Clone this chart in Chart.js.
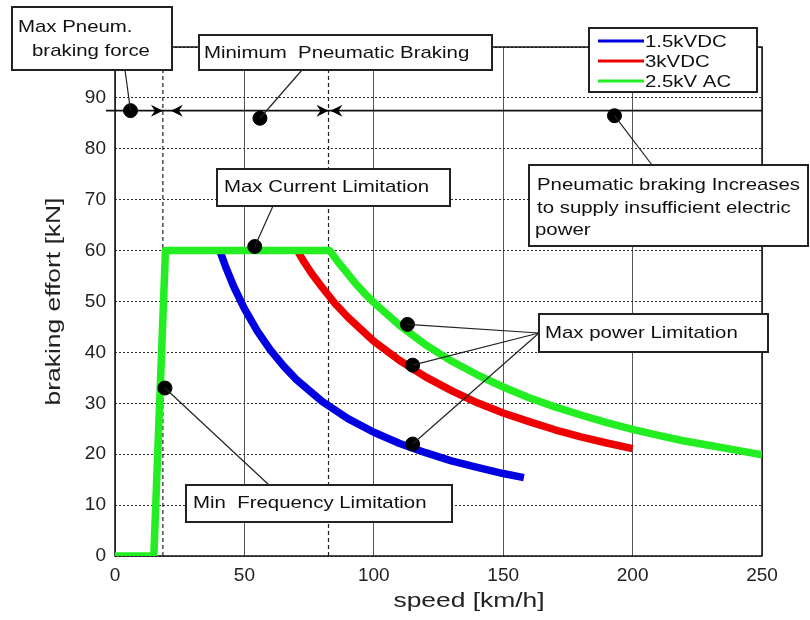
<!DOCTYPE html>
<html>
<head>
<meta charset="utf-8">
<script src="https://cdn.jsdelivr.net/npm/chart.js@4/dist/chart.umd.min.js"></script>
<style>
  html, body { margin: 0; padding: 0; background: #fff; }
  #wrap { width: 810px; height: 620px; }
</style>
</head>
<body>
<div id="wrap"><canvas id="brake-chart" width="810" height="620"></canvas></div>
<script>
// values (speed in km/h, effort in kN)
const blueSpeed = [40.5, 43, 46, 50, 55, 60, 65, 70, 80, 90, 100, 110, 120, 130, 140, 150, 158];
const blueForce = [60, 56.5, 52.8, 48.6, 44.2, 40.5, 37.4, 34.7, 30.4, 27, 24.3, 22.1, 20.3, 18.7, 17.4, 16.2, 15.4];

const redSpeed = [70.5, 73, 76, 80, 85, 90, 100, 110, 120, 130, 140, 150, 160, 170, 180, 190, 200];
const redForce = [60, 57.8, 55.5, 52.8, 49.6, 46.9, 42.2, 38.4, 35.2, 32.5, 30.1, 28.1, 26.4, 24.8, 23.4, 22.2, 21.1];

const greenSpeed = [0, 15, 19.5, 83, 86, 89, 93, 97, 100, 110, 120, 130, 140, 150, 160, 170, 180, 190, 200, 210, 220, 230, 240, 250];
const greenForce = [0, 0, 60, 60, 57.9, 56, 53.5, 51.3, 49.8, 45.3, 41.5, 38.3, 35.6, 33.2, 31.1, 29.3, 27.7, 26.2, 24.9, 23.7, 22.6, 21.7, 20.8, 19.9];

const seriesNames = ['1.5kVDC', '3kVDC', '2.5kV AC'];
const seriesColors = ['#0000e0', '#ee0000', '#22ee22'];

// black marker dots on the annotations
const dotSpeed = [6, 56, 193, 54, 19.3, 113, 115, 115];
const dotForce = [87.5, 86, 86.5, 60.8, 33, 45.5, 37.5, 22];

// limits: dashed speed lines and the pneumatic arrow level
const limitSpeeds = [18.5, 82.5];
const arrowLevel = 87.5;
const arrowSpan = [-3.5, 250];

const xTicks = [0, 50, 100, 150, 200, 250];
const xTitle = 'speed [km/h]';
const yTitle = 'braking effort [kN]';

function toPoints(xs, ys) {
  return xs.map(function(x, i) { return {x: x, y: ys[i]}; });
}

// text boxes, in canvas pixels; targets = indexes into the dot arrays
const boxes = [
  {x: 12, y: 7, w: 160, h: 63, lines: [['Max Pneum.', 18, 27], ['braking force', 32, 51]], from: [125, 70], targets: [0]},
  {x: 199, y: 35, w: 293, h: 35, lines: [['Minimum  Pneumatic Braking', 204, 53]], from: [302, 70], targets: [1]},
  {x: 217, y: 169, w: 233, h: 37, lines: [['Max Current Limitation', 224, 187]], from: [273, 206], targets: [3]},
  {x: 529, y: 165, w: 279, h: 81, lines: [['Pneumatic braking Increases', 537, 185], ['to supply insufficient electric', 537, 208], ['power', 535, 230]], from: [652, 165], targets: [2]},
  {x: 539, y: 314, w: 229, h: 38, lines: [['Max power Limitation', 545, 333]], from: [539, 333], targets: [5, 6, 7]},
  {x: 186, y: 485, w: 266, h: 37, lines: [['Min  Frequency Limitation', 193, 503]], from: [269, 485], targets: [4]}
];

// the source uses a wide-ish font, so stretch text sideways
function stretchText(ctx, str, x, y, sx, rot) {
  ctx.save();
  ctx.translate(x, y);
  if (rot) ctx.rotate(rot);
  ctx.scale(sx || 1.2, 1);
  ctx.fillText(str, 0, 0);
  ctx.restore();
}

const framePlugin = {
  id: 'frame',
  beforeDatasetsDraw(chart) {
    const a = chart.chartArea, ctx = chart.ctx;
    ctx.save();
    ctx.strokeStyle = '#111';
    ctx.lineWidth = 1.5;
    ctx.strokeRect(a.left, a.top, a.right - a.left, a.bottom - a.top);
    ctx.restore();
  }
};

const notesPlugin = {
  id: 'notes',
  afterDraw(chart) {
    const ctx = chart.ctx;
    const xs = chart.scales.x, ys = chart.scales.y;
    ctx.save();

    // axis titles
    ctx.fillStyle = '#222';
    ctx.font = '20px "Liberation Sans", Arial, sans-serif';
    ctx.textBaseline = 'middle';
    ctx.textAlign = 'center';
    stretchText(ctx, xTitle, 469, 601, 1.32);
    stretchText(ctx, yTitle, 54, (chart.chartArea.top + chart.chartArea.bottom) / 2, 1.32, -Math.PI / 2);
    ctx.textAlign = 'left';

    // arrowheads on the pneumatic braking row
    const ay = ys.getPixelForValue(arrowLevel);
    ctx.fillStyle = '#000';
    limitSpeeds.forEach(function(s, i) {
      const px = xs.getPixelForValue(s);
      const gap = i === 0 ? 8 : 2;
      ctx.beginPath();
      ctx.moveTo(px, ay); ctx.lineTo(px - 12, ay - 6); ctx.lineTo(px - 8, ay); ctx.lineTo(px - 12, ay + 6);
      ctx.closePath(); ctx.fill();
      ctx.beginPath();
      ctx.moveTo(px + gap, ay); ctx.lineTo(px + gap + 12, ay - 6); ctx.lineTo(px + gap + 8, ay); ctx.lineTo(px + gap + 12, ay + 6);
      ctx.closePath(); ctx.fill();
    });

    // connector lines from the boxes to the dots
    ctx.strokeStyle = '#222';
    ctx.lineWidth = 1.2;
    boxes.forEach(function(b) {
      b.targets.forEach(function(t) {
        ctx.beginPath();
        ctx.moveTo(b.from[0], b.from[1]);
        ctx.lineTo(xs.getPixelForValue(dotSpeed[t]), ys.getPixelForValue(dotForce[t]));
        ctx.stroke();
      });
    });

    // the boxes themselves
    ctx.font = '17px "Liberation Sans", Arial, sans-serif';
    boxes.forEach(function(b) {
      ctx.fillStyle = '#fff';
      ctx.fillRect(b.x, b.y, b.w, b.h);
      ctx.strokeStyle = '#222';
      ctx.lineWidth = 2;
      ctx.strokeRect(b.x, b.y, b.w, b.h);
      ctx.fillStyle = '#111';
      b.lines.forEach(function(l) { stretchText(ctx, l[0], l[1], l[2]); });
    });

    // legend
    ctx.fillStyle = '#fff';
    ctx.fillRect(589, 28, 168, 64);
    ctx.strokeStyle = '#222';
    ctx.lineWidth = 2;
    ctx.strokeRect(589, 28, 168, 64);
    chart.data.datasets.slice(0, 3).forEach(function(ds, i) {
      const ly = 41 + i * 20;
      ctx.strokeStyle = ds.borderColor;
      ctx.lineWidth = 3;
      ctx.beginPath(); ctx.moveTo(598, ly); ctx.lineTo(644, ly); ctx.stroke();
      ctx.fillStyle = '#111';
      stretchText(ctx, ds.label, 645, ly + 1);
    });
    ctx.restore();
  }
};

const datasets = [
  {label: seriesNames[0], data: toPoints(blueSpeed, blueForce), borderColor: seriesColors[0], order: 3},
  {label: seriesNames[1], data: toPoints(redSpeed, redForce), borderColor: seriesColors[1], order: 2},
  {label: seriesNames[2], data: toPoints(greenSpeed, greenForce), borderColor: seriesColors[2], order: 1}
].map(function(d) {
  return Object.assign({type: 'line', borderWidth: 7.5, pointRadius: 0, tension: 0,
    borderJoinStyle: 'round', borderCapStyle: 'butt', fill: false}, d);
});

limitSpeeds.forEach(function(s) {
  datasets.push({type: 'line', label: 'limit', data: [{x: s, y: 0}, {x: s, y: 100}],
    borderColor: '#222', borderWidth: 1.2, borderDash: [4, 3], pointRadius: 0, order: 5});
});

datasets.push({type: 'line', label: 'pneumatic', data: [{x: arrowSpan[0], y: arrowLevel}, {x: arrowSpan[1], y: arrowLevel}],
  borderColor: '#111', borderWidth: 1.6, pointRadius: 0, clip: false, order: 4});

datasets.push({type: 'scatter', label: 'dots', data: toPoints(dotSpeed, dotForce),
  backgroundColor: '#000', borderColor: '#000', pointRadius: 7, order: 0});

new Chart(document.getElementById('brake-chart'), {
  type: 'line',
  data: {datasets: datasets},
  plugins: [framePlugin, notesPlugin],
  options: {
    responsive: false,
    animation: false,
    layout: {padding: {top: 47, right: 48, left: 0, bottom: 0}},
    plugins: {legend: {display: false}, tooltip: {enabled: false}},
    scales: {
      x: {
        type: 'linear', min: 0, max: 250,
        afterFit: function(scale) { scale.height = 64; },
        afterBuildTicks: function(scale) { scale.ticks = xTicks.map(function(v) { return {value: v}; }); },
        grid: {color: '#555', lineWidth: 1, drawTicks: false},
        border: {display: false},
        ticks: {color: '#222', font: {family: 'Liberation Sans', size: 19}, padding: 8, maxRotation: 0}
      },
      y: {
        type: 'linear', min: 0, max: 100,
        afterFit: function(scale) { scale.width = 115; },
        grid: {color: '#2a2a2a', lineWidth: 1, drawTicks: false},
        border: {display: false, dash: [2, 2]},
        ticks: {stepSize: 10, color: '#222', font: {family: 'Liberation Sans', size: 19}, padding: 9}
      }
    }
  }
});
</script>
</body>
</html>
